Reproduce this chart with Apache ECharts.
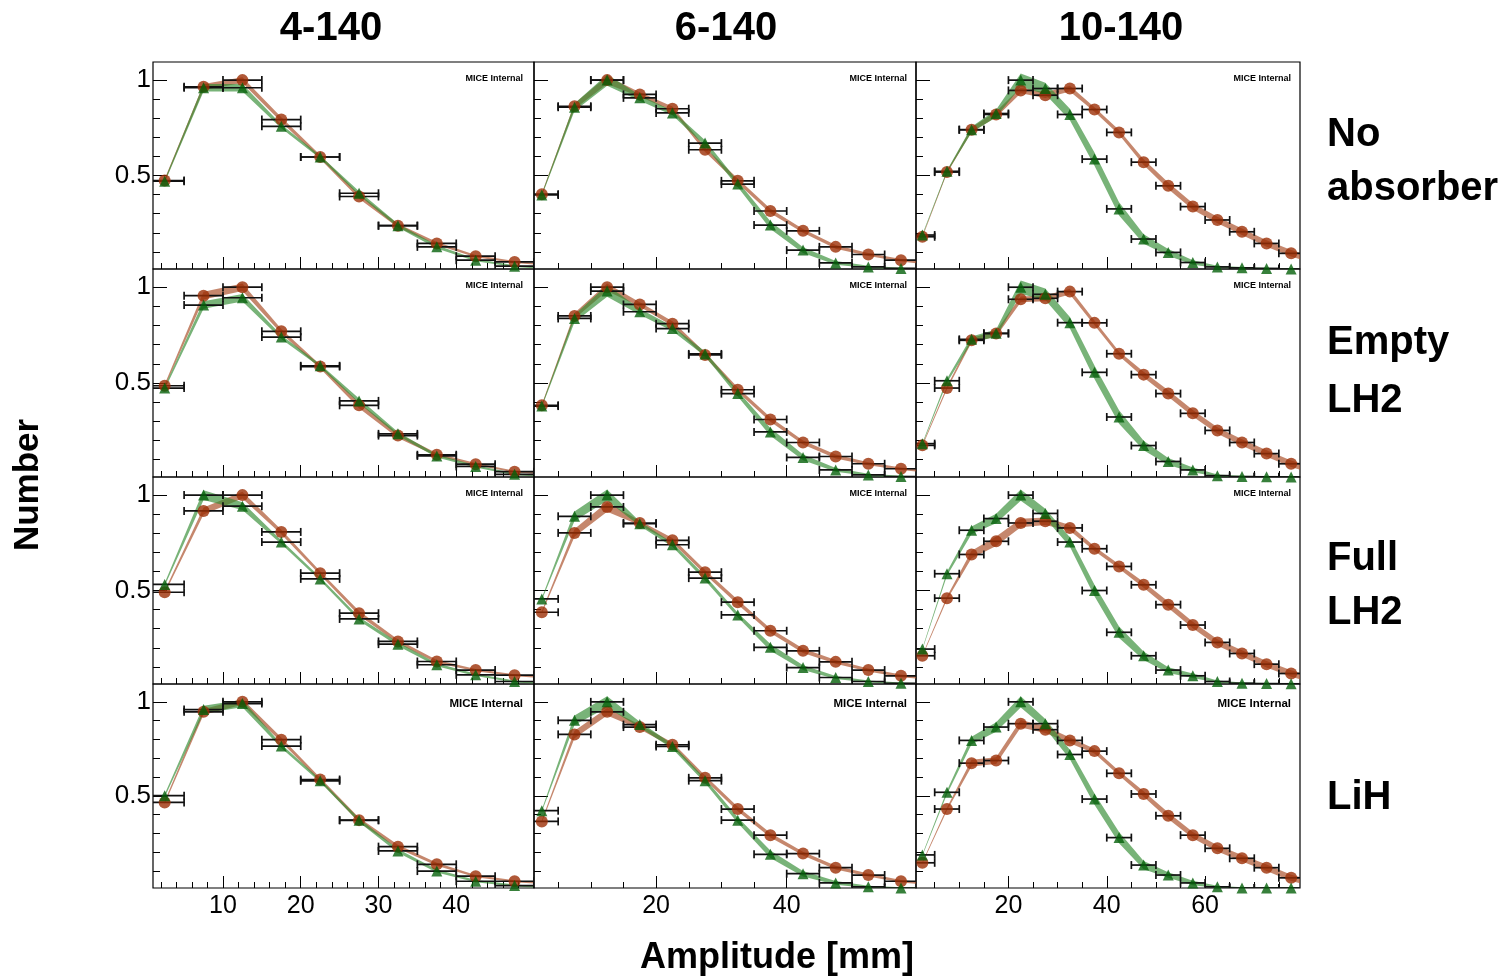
<!DOCTYPE html>
<html><head><meta charset="utf-8">
<script src="https://cdn.jsdelivr.net/npm/echarts@6/dist/echarts.min.js"></script>
<style>html,body{margin:0;padding:0;background:#fff}#c{width:1507px;height:978px}</style>
</head><body><div id="c"></div>
<script>
// ---- categories / tick labels ----
const colTitles = ['4-140', '6-140', '10-140'];
const rowTitles = [['No', 'absorber'], ['Empty', 'LH2'], ['Full', 'LH2'], ['LiH']];
const xMajorTicks = [[10, 20, 30, 40], [20, 40], [20, 40, 60]];
const xMinorTicks = [
  [2,4,6,8,12,14,16,18,22,24,26,28,32,34,36,38,42,44,46,48],
  [5,10,15,25,30,35,45,50,55],
  [5,10,15,25,30,35,45,50,55,65,70,75]
];
const yMajorTicks = [0.5, 1];
const yMinorTicks = [0.1,0.2,0.3,0.4,0.6,0.7,0.8,0.9];
const xRanges = [[1, 50], [1.3, 59.8], [1.2, 79.3]];
const yRange = [0.01, 1.095];
const binHalfWidth = 2.5;

// amplitude bin centres (last one lies just beyond the visible range)
const amp4  = [2.5,7.5,12.5,17.5,22.5,27.5,32.5,37.5,42.5,47.5,52.5];
const amp6  = [2.5,7.5,12.5,17.5,22.5,27.5,32.5,37.5,42.5,47.5,52.5,57.5,62.5];
const amp10 = [2.5,7.5,12.5,17.5,22.5,27.5,32.5,37.5,42.5,47.5,52.5,57.5,62.5,67.5,72.5,77.5,82.5];

// ---- No absorber ----
const noAbs4Red   = [0.474,0.965,1.0,0.793,0.597,0.39,0.237,0.144,0.077,0.047,0.03];
const noAbs4Green = [0.47,0.96,0.96,0.758,0.597,0.407,0.237,0.126,0.056,0.025,0.012];
const noAbs4RedErr   = [0.008,0.015,0.015,0.012,0.01,0.012,0.01,0.008,0.006,0.005,0.004];
const noAbs4GreenErr = [0.008,0.02,0.02,0.01,0.008,0.01,0.01,0.008,0.006,0.005,0.004];
const noAbs6Red   = [0.402,0.863,1.0,0.925,0.85,0.635,0.472,0.314,0.21,0.126,0.086,0.056,0.035];
const noAbs6Green = [0.398,0.858,1.0,0.907,0.828,0.67,0.455,0.24,0.109,0.042,0.021,0.013,0.01];
const noAbs6RedErr   = [0.006,0.015,0.02,0.012,0.012,0.012,0.012,0.012,0.01,0.01,0.008,0.007,0.006];
const noAbs6GreenErr = [0.006,0.02,0.03,0.015,0.012,0.015,0.015,0.02,0.015,0.01,0.006,0.004,0.003];
const noAbs10Red   = [0.179,0.518,0.74,0.82,0.946,0.921,0.956,0.846,0.726,0.57,0.446,0.337,0.267,0.205,0.144,0.092,0.055];
const noAbs10Green = [0.188,0.522,0.74,0.825,1.0,0.956,0.82,0.586,0.325,0.167,0.097,0.044,0.021,0.016,0.013,0.01,0.01];
const noAbs10RedErr   = [0.004,0.006,0.012,0.015,0.015,0.015,0.015,0.012,0.012,0.015,0.017,0.017,0.017,0.017,0.017,0.017,0.017];
const noAbs10GreenErr = [0.004,0.006,0.015,0.02,0.035,0.03,0.03,0.035,0.035,0.025,0.018,0.012,0.006,0.004,0.003,0.003,0.003];

// ---- Empty LH2 ----
const empty4Red   = [0.486,0.956,1.0,0.77,0.586,0.384,0.226,0.126,0.077,0.038,0.025];
const empty4Green = [0.474,0.907,0.945,0.74,0.59,0.407,0.235,0.12,0.065,0.024,0.012];
const empty4RedErr   = [0.008,0.02,0.02,0.012,0.01,0.015,0.012,0.008,0.006,0.005,0.004];
const empty4GreenErr = [0.008,0.02,0.02,0.01,0.008,0.012,0.01,0.008,0.006,0.005,0.004];
const empty6Red   = [0.384,0.85,1.0,0.91,0.81,0.647,0.465,0.31,0.19,0.117,0.079,0.053,0.035];
const empty6Green = [0.38,0.837,0.98,0.872,0.784,0.652,0.445,0.245,0.112,0.047,0.021,0.012,0.01];
const empty6RedErr   = [0.006,0.015,0.02,0.012,0.012,0.012,0.012,0.012,0.01,0.01,0.008,0.007,0.006];
const empty6GreenErr = [0.006,0.02,0.03,0.015,0.012,0.012,0.015,0.02,0.015,0.01,0.006,0.004,0.003];
const empty10Red   = [0.175,0.474,0.723,0.758,0.937,0.942,0.977,0.814,0.653,0.544,0.445,0.342,0.253,0.19,0.132,0.079,0.04];
const empty10Green = [0.184,0.512,0.728,0.76,1.0,0.963,0.815,0.556,0.323,0.174,0.091,0.047,0.017,0.012,0.011,0.01,0.01];
const empty10RedErr   = [0.004,0.008,0.012,0.015,0.015,0.015,0.015,0.012,0.012,0.015,0.017,0.017,0.017,0.017,0.017,0.017,0.017];
const empty10GreenErr = [0.004,0.01,0.015,0.02,0.035,0.03,0.03,0.035,0.035,0.025,0.018,0.012,0.006,0.004,0.003,0.003,0.003];

// ---- Full LH2 ----
const full4Red   = [0.491,0.917,1.0,0.807,0.591,0.381,0.233,0.128,0.083,0.056,0.04];
const full4Green = [0.532,1.0,0.942,0.754,0.561,0.351,0.219,0.111,0.058,0.023,0.012];
const full4RedErr   = [0.008,0.018,0.018,0.012,0.01,0.012,0.01,0.008,0.006,0.005,0.004];
const full4GreenErr = [0.008,0.025,0.02,0.01,0.008,0.01,0.01,0.008,0.006,0.005,0.004];
const full6Red   = [0.386,0.802,0.938,0.854,0.763,0.596,0.439,0.289,0.184,0.126,0.083,0.053,0.035];
const full6Green = [0.456,0.889,1.0,0.85,0.74,0.565,0.372,0.202,0.096,0.044,0.023,0.014,0.01];
const full6RedErr   = [0.006,0.02,0.025,0.012,0.012,0.012,0.012,0.012,0.012,0.01,0.008,0.007,0.006];
const full6GreenErr = [0.006,0.025,0.03,0.012,0.01,0.012,0.012,0.018,0.012,0.008,0.005,0.004,0.003];
const full10Red   = [0.158,0.46,0.689,0.758,0.854,0.863,0.828,0.719,0.626,0.53,0.426,0.319,0.228,0.17,0.114,0.065,0.03];
const full10Green = [0.193,0.588,0.816,0.877,1.0,0.904,0.754,0.5,0.281,0.158,0.083,0.053,0.023,0.014,0.012,0.011,0.01];
const full10RedErr   = [0.004,0.008,0.02,0.025,0.022,0.02,0.015,0.012,0.012,0.015,0.017,0.017,0.017,0.017,0.017,0.017,0.017];
const full10GreenErr = [0.004,0.01,0.02,0.025,0.03,0.025,0.025,0.03,0.03,0.022,0.015,0.012,0.006,0.004,0.003,0.003,0.003];

// ---- LiH ----
const lih4Red   = [0.465,0.947,1.0,0.799,0.587,0.371,0.23,0.136,0.073,0.046,0.03];
const lih4Green = [0.501,0.959,0.991,0.765,0.58,0.37,0.207,0.1,0.046,0.023,0.012];
const lih4RedErr   = [0.008,0.015,0.015,0.012,0.01,0.012,0.01,0.008,0.006,0.005,0.004];
const lih4GreenErr = [0.008,0.02,0.02,0.01,0.008,0.01,0.01,0.008,0.006,0.005,0.004];
const lih6Red   = [0.364,0.827,0.947,0.866,0.772,0.596,0.43,0.291,0.193,0.118,0.079,0.046,0.03];
const lih6Green = [0.421,0.902,1.0,0.879,0.763,0.581,0.371,0.189,0.086,0.037,0.016,0.01,0.01];
const lih6RedErr   = [0.006,0.02,0.02,0.012,0.012,0.012,0.012,0.012,0.01,0.01,0.008,0.007,0.006];
const lih6GreenErr = [0.006,0.025,0.03,0.015,0.012,0.012,0.015,0.02,0.015,0.01,0.006,0.004,0.003];
const lih10Red   = [0.144,0.43,0.674,0.688,0.884,0.852,0.795,0.738,0.62,0.51,0.394,0.291,0.221,0.168,0.118,0.064,0.03];
const lih10Green = [0.186,0.519,0.795,0.866,1.0,0.884,0.72,0.483,0.278,0.132,0.079,0.037,0.016,0.01,0.01,0.01,0.01];
const lih10RedErr   = [0.004,0.008,0.018,0.018,0.02,0.018,0.015,0.012,0.012,0.015,0.017,0.017,0.017,0.017,0.017,0.017,0.017];
const lih10GreenErr = [0.004,0.01,0.02,0.025,0.03,0.025,0.025,0.03,0.03,0.022,0.015,0.012,0.006,0.004,0.003,0.003,0.003];

// ---- layout / style ----
const colLeft = [153, 534, 916], colRight = [534, 916, 1300];
const rowTop = [62, 269, 477, 684], rowBottom = [269, 477, 684, 888];
const FONT = '"Liberation Sans", Arial, Helvetica, sans-serif';
const RED = '#9c3006', GREEN = '#05600a';
const RED_BAND = 'rgba(170,78,40,0.68)', GREEN_BAND = 'rgba(50,140,50,0.66)';

const ampByCol = [amp4, amp6, amp10];
const panelData = [
  [[noAbs4Red,noAbs4Green,noAbs4RedErr,noAbs4GreenErr],[noAbs6Red,noAbs6Green,noAbs6RedErr,noAbs6GreenErr],[noAbs10Red,noAbs10Green,noAbs10RedErr,noAbs10GreenErr]],
  [[empty4Red,empty4Green,empty4RedErr,empty4GreenErr],[empty6Red,empty6Green,empty6RedErr,empty6GreenErr],[empty10Red,empty10Green,empty10RedErr,empty10GreenErr]],
  [[full4Red,full4Green,full4RedErr,full4GreenErr],[full6Red,full6Green,full6RedErr,full6GreenErr],[full10Red,full10Green,full10RedErr,full10GreenErr]],
  [[lih4Red,lih4Green,lih4RedErr,lih4GreenErr],[lih6Red,lih6Green,lih6RedErr,lih6GreenErr],[lih10Red,lih10Green,lih10RedErr,lih10GreenErr]]
];

function makeBand(data, color, ai) {
  return {
    type: 'custom', xAxisIndex: ai, yAxisIndex: ai, clip: true, z: 2, silent: true,
    data: data,
    renderItem: function (params, api) {
      if (params.dataIndex !== 0) return null;
      const up = [], lo = [];
      for (const d of data) {
        up.push(api.coord([d[0], d[1] + d[2]]));
        lo.push(api.coord([d[0], d[1] - d[2]]));
      }
      return { type: 'polygon', shape: { points: up.concat(lo.reverse()) }, style: { fill: color } };
    }
  };
}
function makeBars(data, ai) {
  return {
    type: 'custom', xAxisIndex: ai, yAxisIndex: ai, clip: true, z: 3, silent: true,
    data: data,
    renderItem: function (params, api) {
      const x = api.value(0), y = api.value(1);
      const a = api.coord([x - binHalfWidth, y]);
      const b = api.coord([x + binHalfWidth, y]);
      const cap = 4;
      const st = { stroke: '#111', lineWidth: 1.7 };
      return { type: 'group', children: [
        { type: 'line', shape: { x1: a[0], y1: a[1], x2: b[0], y2: b[1] }, style: st },
        { type: 'line', shape: { x1: a[0], y1: a[1] - cap, x2: a[0], y2: a[1] + cap }, style: st },
        { type: 'line', shape: { x1: b[0], y1: b[1] - cap, x2: b[0], y2: b[1] + cap }, style: st }
      ]};
    }
  };
}

const grids = [], xAxes = [], yAxes = [], series = [], graphics = [];
let idx = 0;
for (let r = 0; r < 4; r++) {
  for (let c = 0; c < 3; c++) {
    const g = idx;
    grids.push({ left: colLeft[c], top: rowTop[r], width: colRight[c] - colLeft[c], height: rowBottom[r] - rowTop[r],
      show: true, borderColor: '#000', borderWidth: 1.2, backgroundColor: 'transparent' });
    const [xmin, xmax] = xRanges[c];
    xAxes.push({ type: 'value', gridIndex: g, position: 'bottom', min: xmin, max: xmax,
      axisLine: { show: false }, splitLine: { show: false },
      axisTick: { show: true, inside: true, length: 12, customValues: xMajorTicks[c], lineStyle: { color: '#000', width: 1 } },
      axisLabel: { show: r === 3, customValues: xMajorTicks[c], fontSize: 25, color: '#000', fontFamily: FONT, margin: 6 } });
    xAxes.push({ type: 'value', gridIndex: g, position: 'bottom', min: xmin, max: xmax,
      axisLine: { show: false }, splitLine: { show: false },
      axisTick: { show: true, inside: true, length: 6, customValues: xMinorTicks[c], lineStyle: { color: '#000', width: 1 } },
      axisLabel: { show: false } });
    yAxes.push({ type: 'value', gridIndex: g, position: 'left', min: yRange[0], max: yRange[1],
      axisLine: { show: false }, splitLine: { show: false },
      axisTick: { show: true, inside: true, length: 14, customValues: yMajorTicks, lineStyle: { color: '#000', width: 1 } },
      axisLabel: { show: c === 0, customValues: yMajorTicks, fontSize: 26, color: '#000', fontFamily: FONT, margin: 2 } });
    yAxes.push({ type: 'value', gridIndex: g, position: 'left', min: yRange[0], max: yRange[1],
      axisLine: { show: false }, splitLine: { show: false },
      axisTick: { show: true, inside: true, length: 7, customValues: yMinorTicks, lineStyle: { color: '#000', width: 1 } },
      axisLabel: { show: false } });
    const ai = 2 * g;
    const xs = ampByCol[c];
    const [red, green, redErr, greenErr] = panelData[r][c];
    const redD = xs.map((x, k) => [x, red[k], redErr[k]]);
    const greenD = xs.map((x, k) => [x, green[k], greenErr[k]]);
    series.push(makeBand(redD, RED_BAND, ai));
    series.push(makeBand(greenD, GREEN_BAND, ai));
    series.push(makeBars(redD, ai));
    series.push(makeBars(greenD, ai));
    series.push({ type: 'scatter', xAxisIndex: ai, yAxisIndex: ai, clip: true, z: 4, symbol: 'circle', symbolSize: 12,
      itemStyle: { color: RED }, data: redD.map(d => [d[0], d[1]]), silent: true });
    series.push({ type: 'scatter', xAxisIndex: ai, yAxisIndex: ai, clip: true, z: 5, symbol: 'triangle', symbolSize: 11,
      itemStyle: { color: GREEN }, data: greenD.map(d => [d[0], d[1]]), silent: true });
    const big = r === 3;
    graphics.push({ type: 'text', x: colRight[c] - (c === 0 ? 11 : 9), y: rowTop[r] + (big ? 20 : 17), z: 10,
      style: { text: 'MICE Internal', font: 'bold ' + (big ? 11.5 : 9) + 'px ' + FONT, fill: '#000', align: 'right', verticalAlign: 'middle' } });
    idx++;
  }
}

const colCenters = [331, 726, 1121];
colTitles.forEach((t, c) => graphics.push({ type: 'text', x: colCenters[c], y: 29,
  style: { text: t, font: 'bold 40px ' + FONT, fill: '#000', align: 'center', verticalAlign: 'middle' } }));
const rowLineY = [[135, 189], [343, 401], [559, 613], [798]];
rowTitles.forEach((lines, r) => lines.forEach((t, k) => graphics.push({ type: 'text', x: 1327, y: rowLineY[r][k],
  style: { text: t, font: 'bold 40px ' + FONT, fill: '#000', align: 'left', verticalAlign: 'middle' } })));
graphics.push({ type: 'text', x: 28, y: 485, rotation: Math.PI / 2,
  style: { text: 'Number', font: 'bold 35px ' + FONT, fill: '#000', align: 'center', verticalAlign: 'middle' } });
graphics.push({ type: 'text', x: 777, y: 958,
  style: { text: 'Amplitude [mm]', font: 'bold 36px ' + FONT, fill: '#000', align: 'center', verticalAlign: 'middle' } });

const chart = echarts.init(document.getElementById('c'), null, { renderer: 'canvas' });
chart.setOption({
  backgroundColor: '#fff',
  animation: false,
  grid: grids, xAxis: xAxes, yAxis: yAxes, series: series, graphic: graphics
});
</script></body></html>
